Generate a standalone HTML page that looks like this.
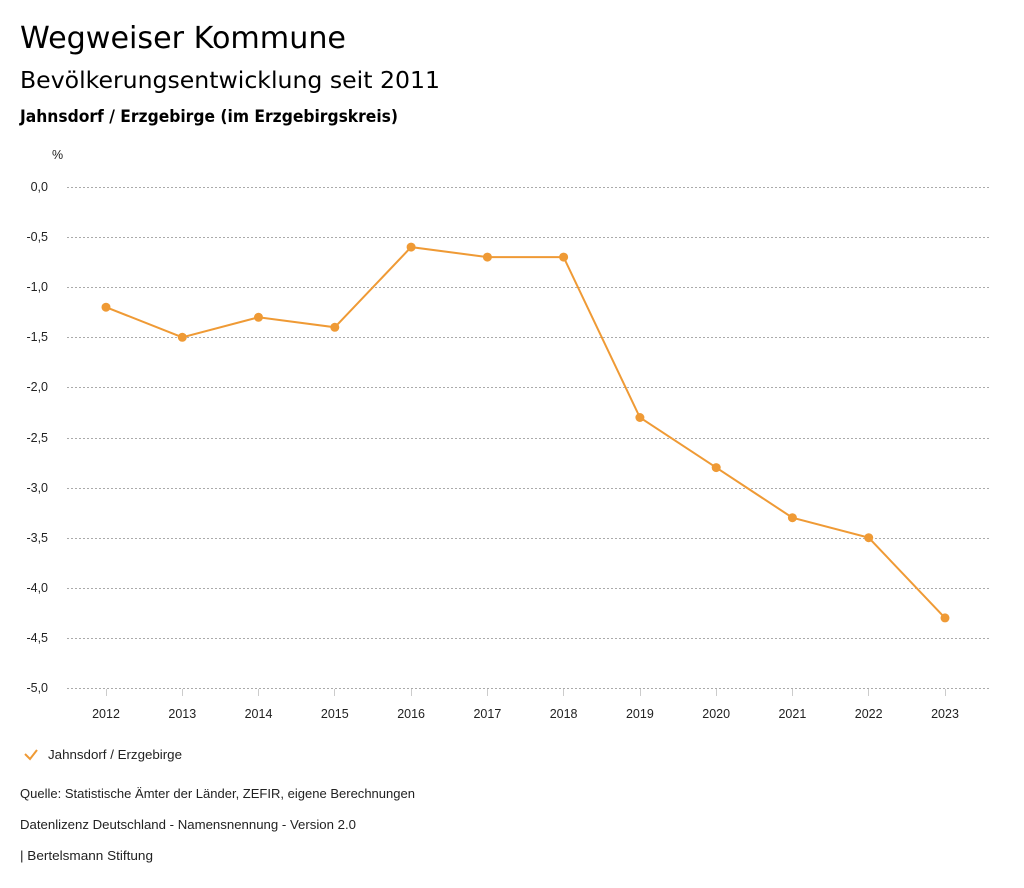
<!DOCTYPE html>
<html><head><meta charset="utf-8"><style>
body{margin:0;background:#fff;width:1024px;height:888px;overflow:hidden}
svg{display:block}
.t{font-family:"DejaVu Sans",sans-serif;fill:#000}
.s{font-family:"Liberation Sans",sans-serif;font-size:12.5px;fill:#222}
</style></head><body>
<svg width="1024" height="888" viewBox="0 0 1024 888">
<text class="t" x="20" y="48" font-size="30" textLength="326" lengthAdjust="spacingAndGlyphs">Wegweiser Kommune</text>
<text class="t" x="20" y="88" font-size="23" textLength="420" lengthAdjust="spacingAndGlyphs">Bevölkerungsentwicklung seit 2011</text>
<text class="t" x="20" y="122" font-size="17" font-weight="bold" textLength="378" lengthAdjust="spacingAndGlyphs">Jahnsdorf / Erzgebirge (im Erzgebirgskreis)</text>
<text class="s" x="52" y="159">%</text>
<g stroke="#aaa" stroke-width="1" stroke-dasharray="2,2">
<line x1="67" x2="990" y1="187.5" y2="187.5"/><line x1="67" x2="990" y1="237.5" y2="237.5"/>
<line x1="67" x2="990" y1="287.5" y2="287.5"/><line x1="67" x2="990" y1="337.5" y2="337.5"/>
<line x1="67" x2="990" y1="387.5" y2="387.5"/><line x1="67" x2="990" y1="438.5" y2="438.5"/>
<line x1="67" x2="990" y1="488.5" y2="488.5"/><line x1="67" x2="990" y1="538.5" y2="538.5"/>
<line x1="67" x2="990" y1="588.5" y2="588.5"/><line x1="67" x2="990" y1="638.5" y2="638.5"/>
<line x1="67" x2="990" y1="688.5" y2="688.5"/>
</g>
<g class="s" text-anchor="end">
<text x="48" y="191">0,0</text><text x="48" y="241">-0,5</text><text x="48" y="291">-1,0</text>
<text x="48" y="341">-1,5</text><text x="48" y="391">-2,0</text><text x="48" y="442">-2,5</text>
<text x="48" y="492">-3,0</text><text x="48" y="542">-3,5</text><text x="48" y="592">-4,0</text>
<text x="48" y="642">-4,5</text><text x="48" y="692">-5,0</text>
</g>
<g stroke="#ccc" stroke-width="1">
<line x1="106.5" x2="106.5" y1="689" y2="696"/><line x1="182.5" x2="182.5" y1="689" y2="696"/>
<line x1="258.5" x2="258.5" y1="689" y2="696"/><line x1="334.5" x2="334.5" y1="689" y2="696"/>
<line x1="411.5" x2="411.5" y1="689" y2="696"/><line x1="487.5" x2="487.5" y1="689" y2="696"/>
<line x1="563.5" x2="563.5" y1="689" y2="696"/><line x1="640.5" x2="640.5" y1="689" y2="696"/>
<line x1="716.5" x2="716.5" y1="689" y2="696"/><line x1="792.5" x2="792.5" y1="689" y2="696"/>
<line x1="868.5" x2="868.5" y1="689" y2="696"/><line x1="945.5" x2="945.5" y1="689" y2="696"/>
</g>
<g class="s" text-anchor="middle">
<text x="106" y="718">2012</text><text x="182.3" y="718">2013</text><text x="258.5" y="718">2014</text>
<text x="334.8" y="718">2015</text><text x="411.1" y="718">2016</text><text x="487.4" y="718">2017</text>
<text x="563.6" y="718">2018</text><text x="639.9" y="718">2019</text><text x="716.2" y="718">2020</text>
<text x="792.4" y="718">2021</text><text x="868.7" y="718">2022</text><text x="945" y="718">2023</text>
</g>
<polyline fill="none" stroke="#ef9a35" stroke-width="2" points="106,307.2 182.3,337.3 258.5,317.3 334.8,327.3 411.1,247.1 487.4,257.1 563.6,257.1 639.9,417.5 716.2,467.6 792.4,517.7 868.7,537.7 945,617.9"/>
<g fill="#ef9a35">
<circle cx="106" cy="307.2" r="4.5"/><circle cx="182.3" cy="337.3" r="4.5"/><circle cx="258.5" cy="317.3" r="4.5"/>
<circle cx="334.8" cy="327.3" r="4.5"/><circle cx="411.1" cy="247.1" r="4.5"/><circle cx="487.4" cy="257.1" r="4.5"/>
<circle cx="563.6" cy="257.1" r="4.5"/><circle cx="639.9" cy="417.5" r="4.5"/><circle cx="716.2" cy="467.6" r="4.5"/>
<circle cx="792.4" cy="517.7" r="4.5"/><circle cx="868.7" cy="537.7" r="4.5"/><circle cx="945" cy="617.9" r="4.5"/>
</g>
<polyline fill="none" stroke="#ef9a35" stroke-width="2" points="25,754 30,759 37,750"/>
<text class="s" x="48" y="759" textLength="134" lengthAdjust="spacingAndGlyphs">Jahnsdorf / Erzgebirge</text>
<text class="s" x="20" y="798" textLength="395" lengthAdjust="spacingAndGlyphs">Quelle: Statistische Ämter der Länder, ZEFIR, eigene Berechnungen</text>
<text class="s" x="20" y="829" textLength="336" lengthAdjust="spacingAndGlyphs">Datenlizenz Deutschland - Namensnennung - Version 2.0</text>
<text class="s" x="20" y="860" textLength="133" lengthAdjust="spacingAndGlyphs">| Bertelsmann Stiftung</text>
</svg>
</body></html>
